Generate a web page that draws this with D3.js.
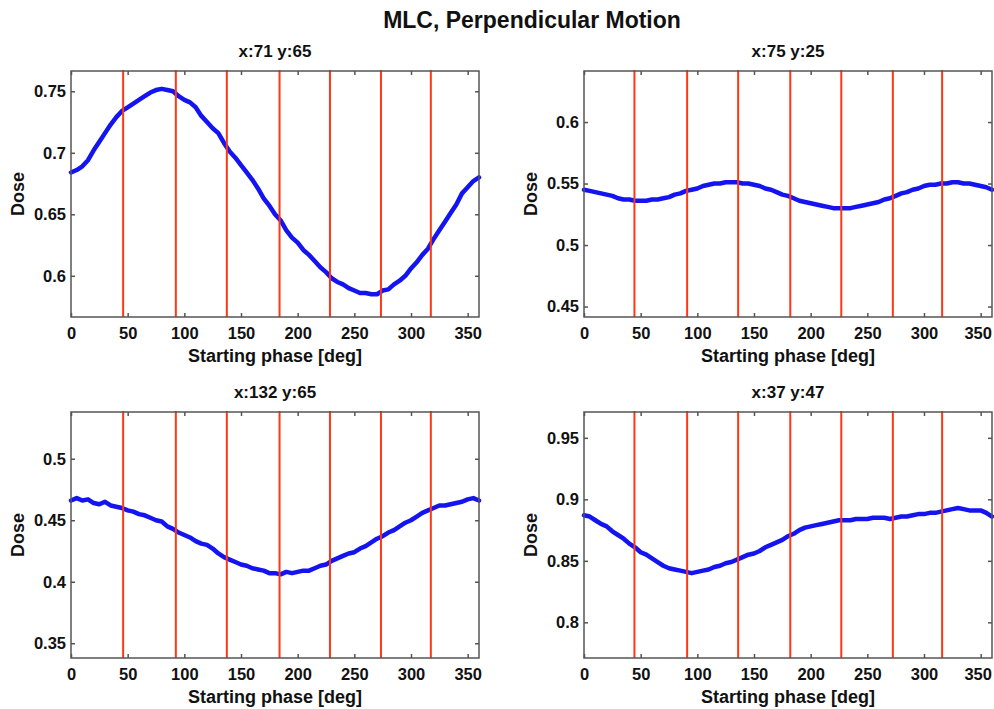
<!DOCTYPE html>
<html>
<head>
<meta charset="utf-8">
<script src="https://cdn.jsdelivr.net/npm/d3@7"></script>
<style>
  body { margin: 0; background: #fff; }
  text { font-family: "Liberation Sans", Arial, sans-serif; font-weight: bold; fill: #111; }
</style>
</head>
<body>
<script>
// starting phase, every 5 deg
var phase = [0, 5, 10, 15, 20, 25, 30, 35, 40, 45, 50, 55, 60, 65, 70, 75, 80, 85, 90, 95,
  100, 105, 110, 115, 120, 125, 130, 135, 140, 145, 150, 155, 160, 165, 170, 175, 180, 185, 190, 195,
  200, 205, 210, 215, 220, 225, 230, 235, 240, 245, 250, 255, 260, 265, 270, 275, 280, 285, 290, 295,
  300, 305, 310, 315, 320, 325, 330, 335, 340, 345, 350, 355, 360];

// dose
var dose_71_65 = [0.684, 0.686, 0.689, 0.694, 0.702, 0.709, 0.716, 0.723, 0.729, 0.734, 0.737, 0.740, 0.743, 0.746, 0.749, 0.751, 0.752, 0.751, 0.750, 0.746,
  0.743, 0.741, 0.737, 0.730, 0.725, 0.720, 0.716, 0.708, 0.701, 0.696, 0.690, 0.684, 0.678, 0.671, 0.663, 0.657, 0.650, 0.645, 0.637, 0.631,
  0.627, 0.621, 0.617, 0.612, 0.607, 0.603, 0.598, 0.595, 0.593, 0.590, 0.588, 0.586, 0.586, 0.585, 0.585, 0.588, 0.589, 0.593, 0.596, 0.600,
  0.606, 0.611, 0.617, 0.622, 0.630, 0.637, 0.644, 0.651, 0.658, 0.667, 0.672, 0.677, 0.680];

var dose_75_25 = [0.545, 0.544, 0.543, 0.542, 0.541, 0.540, 0.538, 0.537, 0.537, 0.536, 0.536, 0.536, 0.537, 0.537, 0.538, 0.539, 0.541, 0.542, 0.544, 0.545,
  0.546, 0.548, 0.549, 0.550, 0.550, 0.551, 0.551, 0.551, 0.550, 0.550, 0.549, 0.548, 0.546, 0.545, 0.543, 0.541, 0.540, 0.538, 0.536, 0.535,
  0.534, 0.533, 0.532, 0.531, 0.530, 0.530, 0.530, 0.530, 0.531, 0.532, 0.533, 0.534, 0.535, 0.537, 0.538, 0.540, 0.542, 0.543, 0.545, 0.546,
  0.548, 0.549, 0.549, 0.550, 0.550, 0.551, 0.551, 0.550, 0.550, 0.549, 0.548, 0.547, 0.545];

var dose_132_65 = [0.466, 0.468, 0.466, 0.467, 0.464, 0.463, 0.465, 0.462, 0.461, 0.460, 0.458, 0.457, 0.455, 0.454, 0.452, 0.450, 0.449, 0.445, 0.443, 0.440,
  0.438, 0.436, 0.433, 0.431, 0.430, 0.427, 0.423, 0.420, 0.418, 0.416, 0.414, 0.413, 0.411, 0.410, 0.409, 0.407, 0.407, 0.406, 0.408, 0.407,
  0.408, 0.409, 0.409, 0.411, 0.413, 0.414, 0.417, 0.419, 0.421, 0.423, 0.424, 0.427, 0.429, 0.432, 0.435, 0.437, 0.440, 0.442, 0.445, 0.448,
  0.450, 0.453, 0.456, 0.458, 0.460, 0.462, 0.462, 0.463, 0.464, 0.465, 0.467, 0.468, 0.466];

var dose_37_47 = [0.887, 0.886, 0.883, 0.880, 0.878, 0.874, 0.871, 0.868, 0.864, 0.861, 0.857, 0.855, 0.852, 0.849, 0.846, 0.844, 0.843, 0.842, 0.841, 0.840,
  0.841, 0.842, 0.843, 0.845, 0.846, 0.848, 0.849, 0.851, 0.853, 0.855, 0.856, 0.858, 0.861, 0.863, 0.865, 0.867, 0.870, 0.872, 0.875, 0.877,
  0.878, 0.879, 0.880, 0.881, 0.882, 0.883, 0.883, 0.883, 0.884, 0.884, 0.884, 0.885, 0.885, 0.885, 0.884, 0.885, 0.886, 0.886, 0.887, 0.888,
  0.888, 0.889, 0.889, 0.890, 0.891, 0.892, 0.893, 0.892, 0.891, 0.891, 0.891, 0.889, 0.886];

var panel_titles = ["x:71 y:65", "x:75 y:25", "x:132 y:65", "x:37 y:47"];

// y limits and ticks per panel
var ylim_71_65 = [0.5665, 0.7665];
var ylim_75_25 = [0.4415, 0.6415];
var ylim_132_65 = [0.338, 0.538];
var ylim_37_47 = [0.771, 0.971];

var yticks_71_65 = [0.6, 0.65, 0.7, 0.75];
var yticks_75_25 = [0.45, 0.5, 0.55, 0.6];
var yticks_132_65 = [0.35, 0.4, 0.45, 0.5];
var yticks_37_47 = [0.8, 0.85, 0.9, 0.95];

var xticks = [0, 50, 100, 150, 200, 250, 300, 350];

// red phase markers (left column / right column)
var phase_lines_left = [46, 92.5, 137.5, 184, 228.5, 273.5, 317.5];
var phase_lines_right = [44.5, 91, 136, 182, 227, 272.5, 316];

window.document.addEventListener('DOMContentLoaded', load);

function load() {

  var width = 994,
      height = 709;

  var svg = d3.select("body").append("svg")
      .attr("width", width)
      .attr("height", height);

  svg.append("text")
      .attr("x", 532)
      .attr("y", 28)
      .attr("text-anchor", "middle")
      .style("font-size", "23px")
      .text("MLC, Perpendicular Motion");

  var panels = [
    { title: panel_titles[0], values: dose_71_65, ylim: ylim_71_65, yticks: yticks_71_65, lines: phase_lines_left,  left: 71,  top: 71 },
    { title: panel_titles[1], values: dose_75_25, ylim: ylim_75_25, yticks: yticks_75_25, lines: phase_lines_right, left: 584, top: 71 },
    { title: panel_titles[2], values: dose_132_65, ylim: ylim_132_65, yticks: yticks_132_65, lines: phase_lines_left,  left: 71,  top: 412 },
    { title: panel_titles[3], values: dose_37_47, ylim: ylim_37_47, yticks: yticks_37_47, lines: phase_lines_right, left: 584, top: 412 }
  ];

  var pw = 408,
      ph = 246;

  panels.forEach(function (p) {

    var g = svg.append("g")
        .attr("transform", "translate(" + p.left + "," + p.top + ")");

    var x = d3.scaleLinear().domain([0, 360]).range([0, pw]);
    var y = d3.scaleLinear().domain(p.ylim).range([ph, 0]);

    // inward ticks on all four sides
    var bottom = g.append("g")
        .attr("transform", "translate(0," + ph + ")")
        .call(d3.axisBottom(x).tickValues(xticks).tickSizeInner(-4).tickSizeOuter(0).tickPadding(10).tickFormat(d3.format("d")));
    var top = g.append("g")
        .call(d3.axisTop(x).tickValues(xticks).tickSizeInner(-4).tickSizeOuter(0).tickFormat(""));
    var left = g.append("g")
        .call(d3.axisLeft(y).tickValues(p.yticks).tickSizeInner(-4).tickSizeOuter(0).tickPadding(5).tickFormat(function (d) { return String(d); }));
    var right = g.append("g")
        .attr("transform", "translate(" + pw + ",0)")
        .call(d3.axisRight(y).tickValues(p.yticks).tickSizeInner(-4).tickSizeOuter(0).tickFormat(""));

    [bottom, top, left, right].forEach(function (a) {
      a.select(".domain").remove();
      a.selectAll(".tick line").attr("stroke", "#555").attr("stroke-width", 1.5);
      a.selectAll(".tick text")
          .style("font-size", "16.5px")
          .style("font-family", '"Liberation Sans", Arial, sans-serif')
          .style("font-weight", "bold")
          .attr("fill", "#111");
    });

    // keep the last x label inside the page on the right column
    if (p.left > 500) {
      bottom.selectAll(".tick text")
          .filter(function (d) { return d === 350; })
          .attr("dx", -3);
    }

    // the curve
    var line_generator = d3.line()
        .x(function (d, i) { return x(phase[i]); })
        .y(function (d) { return y(d); });

    g.append("path")
        .datum(p.values)
        .attr("d", line_generator)
        .attr("fill", "none")
        .attr("stroke", "#1414f0")
        .attr("stroke-width", 4.5)
        .attr("stroke-linejoin", "round")
        .attr("stroke-linecap", "round");

    // red vertical lines on top
    g.selectAll(".phase-line")
        .data(p.lines)
        .enter().append("line")
        .attr("class", "phase-line")
        .attr("x1", function (d) { return x(d); })
        .attr("x2", function (d) { return x(d); })
        .attr("y1", -1)
        .attr("y2", ph)
        .attr("stroke", "#ff3814")
        .attr("stroke-width", 2);

    // frame
    g.append("rect")
        .attr("width", pw)
        .attr("height", ph)
        .attr("fill", "none")
        .attr("stroke", "#555")
        .attr("stroke-width", 1.5);

    g.append("text")
        .attr("x", pw / 2)
        .attr("y", -14)
        .attr("text-anchor", "middle")
        .style("font-size", "17px")
        .text(p.title);

    g.append("text")
        .attr("x", pw / 2)
        .attr("y", ph + 45)
        .attr("text-anchor", "middle")
        .style("font-size", "18px")
        .text("Starting phase [deg]");

    g.append("text")
        .attr("transform", "translate(-47," + (ph / 2) + ") rotate(-90)")
        .attr("text-anchor", "middle")
        .style("font-size", "18px")
        .text("Dose");
  });
}
</script>
</body>
</html>
